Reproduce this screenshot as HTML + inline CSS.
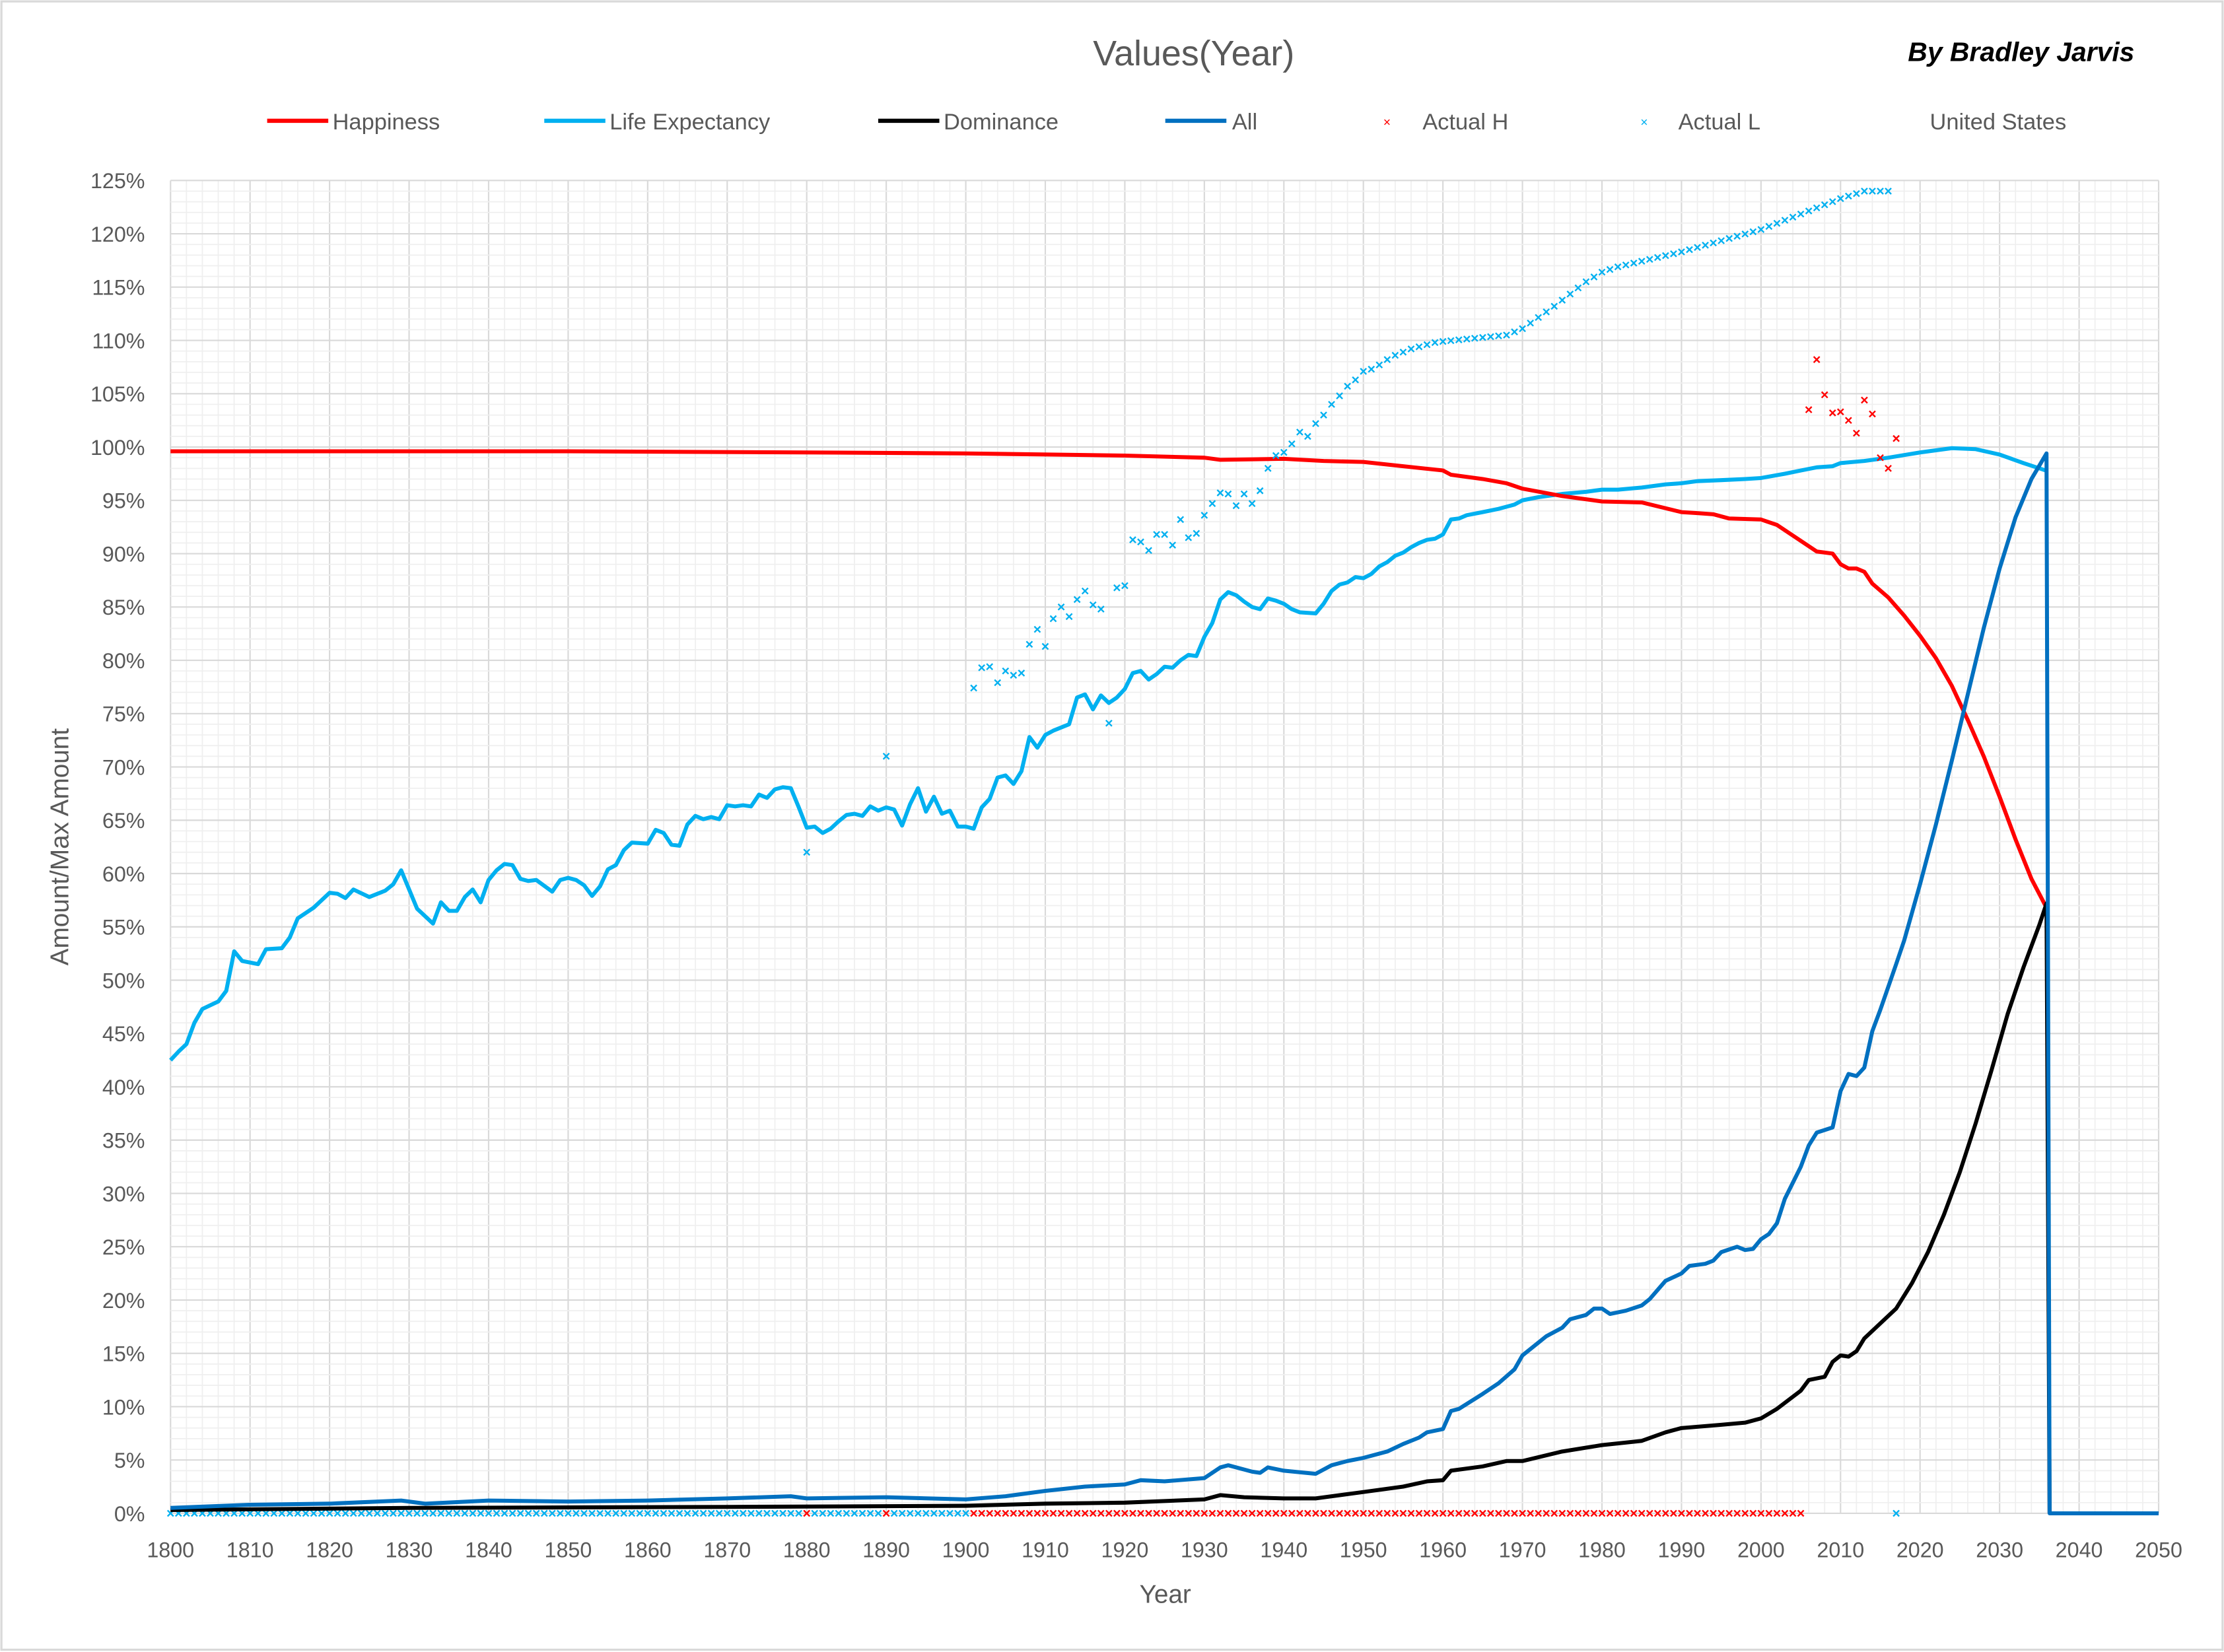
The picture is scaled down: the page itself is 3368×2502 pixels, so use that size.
<!DOCTYPE html>
<html><head><meta charset="utf-8"><style>
html,body{margin:0;padding:0;background:#fff;}
svg{display:block;}
text{font-family:"Liberation Sans",sans-serif;}
</style></head><body>
<svg id="s" width="3368" height="2502" viewBox="0 0 1565 1162.6" preserveAspectRatio="none" xmlns="http://www.w3.org/2000/svg">
<rect x="1" y="1" width="1563" height="1160" fill="#fff" stroke="#d9d9d9" stroke-width="1.5"/>
<g id="grid"></g>
<text x="840" y="46" font-size="25" fill="#595959" text-anchor="middle">Values(Year)</text>
<text x="1502" y="43" font-size="19" font-style="italic" font-weight="bold" fill="#000" text-anchor="end">By Bradley Jarvis</text>
<g font-size="16" fill="#595959">
<line x1="188" y1="85" x2="231" y2="85" stroke="#ff0000" stroke-width="3"/><text x="234" y="91">Happiness</text>
<line x1="383" y1="85" x2="426" y2="85" stroke="#00b0f0" stroke-width="3"/><text x="429" y="91">Life Expectancy</text>
<line x1="618" y1="85" x2="661" y2="85" stroke="#000" stroke-width="3"/><text x="664" y="91">Dominance</text>
<line x1="820" y1="85" x2="863" y2="85" stroke="#0070c0" stroke-width="3"/><text x="867" y="91">All</text>
<text x="976" y="89" font-size="9" fill="#ff0000" text-anchor="middle">×</text><text x="1001" y="91">Actual H</text>
<text x="1157" y="89" font-size="9" fill="#00b0f0" text-anchor="middle">×</text><text x="1181" y="91">Actual L</text>
<text x="1358" y="91">United States</text>
</g>
<text transform="translate(48,596) rotate(-90)" font-size="18" fill="#595959" text-anchor="middle">Amount/Max Amount</text>
<text x="820" y="1128" font-size="18" fill="#595959" text-anchor="middle">Year</text>
<g id="ticks" font-size="15" fill="#595959"></g>
<g id="series"></g>
</svg>
<script>
var L=120,R=1519,T=127,B=1065;
function X(y){return L+(y-1800)*(R-L)/250;}
function Y(v){return B-v*(B-T)/125;}
var g=document.getElementById('grid'),h='';
for(var yr=1800;yr<=2050;yr+=2){var maj=(yr%10==0);h+='<line x1="'+X(yr)+'" y1="'+T+'" x2="'+X(yr)+'" y2="'+B+'" stroke="'+(maj?'#d9d9d9':'#efefef')+'" stroke-width="'+(maj?1:0.8)+'"/>';}
for(var v=0;v<=125;v+=1){var maj=(v%5==0);h+='<line x1="'+L+'" y1="'+Y(v)+'" x2="'+R+'" y2="'+Y(v)+'" stroke="'+(maj?'#d9d9d9':'#efefef')+'" stroke-width="'+(maj?1:0.8)+'"/>';}
g.innerHTML=h;
var t='';
for(var v=0;v<=125;v+=5){t+='<text x="102" y="'+(Y(v)+5.5)+'" text-anchor="end">'+v+'%</text>';}
for(var yr=1800;yr<=2050;yr+=10){t+='<text x="'+X(yr)+'" y="'+(B+31)+'" text-anchor="middle">'+yr+'</text>';}
document.getElementById('ticks').innerHTML=t;
function path(d,c,w){var p='';for(var i=0;i<d.length;i+=2){p+=(i?'L':'M')+X(d[i]).toFixed(1)+','+Y(d[i+1]).toFixed(1);}return '<path d="'+p+'" fill="none" stroke="'+c+'" stroke-width="'+w+'" stroke-linejoin="round"/>';}
function mk(x,v,c){var cx=X(x),cy=Y(v),r=2.1;return '<path d="M'+(cx-r)+','+(cy-r)+'L'+(cx+r)+','+(cy+r)+'M'+(cx-r)+','+(cy+r)+'L'+(cx+r)+','+(cy-r)+'" stroke="'+c+'" stroke-width="1.1"/>';}
var life=[1800,42.5,1801,43.3,1802,44,1803,46,1804,47.3,1806,48,1807,49,1808,52.7,1809,51.8,1811,51.5,1812,52.9,1814,53,1815,54,1816,55.8,1818,56.8,1820,58.2,1821,58.1,1822,57.7,1823,58.5,1825,57.8,1827,58.4,1828,59,1829,60.3,1830,58.5,1831,56.7,1833,55.3,1834,57.3,1835,56.5,1836,56.5,1837,57.8,1838,58.5,1839,57.3,1840,59.4,1841,60.3,1842,60.9,1843,60.8,1844,59.5,1845,59.3,1846,59.4,1848,58.3,1849,59.4,1850,59.6,1851,59.4,1852,58.9,1853,57.9,1854,58.8,1855,60.4,1856,60.8,1857,62.2,1858,62.9,1860,62.8,1861,64.1,1862,63.8,1863,62.7,1864,62.6,1865,64.6,1866,65.4,1867,65.1,1868,65.3,1869,65.1,1870,66.4,1871,66.3,1872,66.4,1873,66.3,1874,67.4,1875,67.1,1876,67.9,1877,68.1,1878,68,1879,66.2,1880,64.3,1881,64.4,1882,63.8,1883,64.2,1884,64.9,1885,65.5,1886,65.6,1887,65.4,1888,66.3,1889,65.9,1890,66.2,1891,66,1892,64.5,1893,66.5,1894,68,1895,65.8,1896,67.2,1897,65.6,1898,65.9,1899,64.4,1900,64.4,1901,64.2,1902,66.2,1903,67,1904,69,1905,69.2,1906,68.4,1907,69.6,1908,72.8,1909,71.8,1910,73,1911,73.4,1913,74,1914,76.5,1915,76.8,1916,75.4,1917,76.7,1918,76,1919,76.5,1920,77.3,1921,78.8,1922,79,1923,78.2,1924,78.7,1925,79.4,1926,79.3,1927,80,1928,80.5,1929,80.4,1930,82.2,1931,83.5,1932,85.7,1933,86.4,1934,86.1,1935,85.5,1936,85,1937,84.8,1938,85.8,1939,85.6,1940,85.3,1941,84.8,1942,84.5,1944,84.4,1945,85.3,1946,86.5,1947,87.1,1948,87.3,1949,87.8,1950,87.7,1951,88.1,1952,88.8,1953,89.2,1954,89.8,1955,90.1,1956,90.6,1957,91,1958,91.3,1959,91.4,1960,91.8,1961,93.2,1962,93.3,1963,93.6,1965,93.9,1967,94.2,1969,94.6,1970,95,1972,95.3,1975,95.6,1978,95.8,1980,96,1982,96,1985,96.2,1988,96.5,1990,96.6,1992,96.8,1995,96.9,1998,97,2000,97.1,2003,97.5,2005,97.8,2007,98.1,2009,98.2,2010,98.5,2013,98.7,2016,99,2020,99.5,2024,99.9,2027,99.8,2030,99.3,2033,98.5,2035,98,2035.8,97.8];
var hap=[1800,99.6,1850,99.6,1880,99.5,1900,99.4,1920,99.2,1930,99.0,1932,98.8,1940,98.9,1945,98.7,1950,98.6,1955,98.2,1960,97.8,1961,97.4,1965,97,1968,96.6,1970,96.1,1975,95.4,1980,94.9,1985,94.8,1990,93.9,1992,93.8,1994,93.7,1996,93.3,2000,93.2,2002,92.7,2005,91.2,2007,90.2,2009,90.0,2010,89,2011,88.6,2012,88.6,2013,88.3,2014,87.2,2016,85.9,2018,84.2,2020,82.3,2022,80.2,2024,77.6,2026,74.4,2028,71,2030,67.2,2032,63.2,2034,59.5,2035.9,56.8];
var all=[1800,0.5,1810,0.8,1820,0.9,1829,1.2,1832,0.9,1840,1.2,1850,1.1,1860,1.2,1870,1.4,1878,1.6,1880,1.4,1890,1.5,1900,1.3,1905,1.6,1910,2.1,1915,2.5,1920,2.7,1922,3.1,1925,3,1930,3.3,1932,4.3,1933,4.5,1936,3.9,1937,3.8,1938,4.3,1940,4.0,1944,3.7,1946,4.5,1948,4.9,1950,5.2,1953,5.8,1955,6.5,1957,7.1,1958,7.6,1960,7.9,1961,9.6,1962,9.8,1965,11.2,1967,12.2,1969,13.5,1970,14.8,1972,16,1973,16.6,1975,17.4,1976,18.2,1978,18.6,1979,19.2,1980,19.2,1981,18.7,1983,19.0,1985,19.5,1986,20.1,1988,21.8,1990,22.5,1991,23.2,1993,23.4,1994,23.7,1995,24.5,1997,25.0,1998,24.7,1999,24.8,2000,25.7,2001,26.2,2002,27.2,2003,29.5,2005,32.5,2006,34.5,2007,35.7,2009,36.2,2010,39.6,2011,41.2,2012,41.0,2013,41.8,2014,45.2,2015,47.2,2017,51.5,2018,53.7,2020,59,2022,64.6,2024,70.6,2026,76.8,2028,83,2030,88.6,2032,93.4,2034,97,2035.9,99.4,2036.3,0,2050,0];
var dom=[1800,0.3,1830,0.5,1870,0.6,1900,0.7,1910,0.9,1920,1.0,1930,1.3,1932,1.7,1935,1.5,1940,1.4,1944,1.4,1950,2.0,1955,2.5,1958,3.0,1960,3.1,1961,4.0,1965,4.4,1968,4.9,1970,4.9,1975,5.8,1980,6.4,1985,6.8,1988,7.6,1990,8.0,1995,8.3,1998,8.5,2000,8.9,2002,9.8,2005,11.5,2006,12.5,2008,12.8,2009,14.2,2010,14.8,2011,14.7,2012,15.2,2013,16.4,2015,17.8,2017,19.2,2019,21.6,2021,24.5,2023,28,2025,32,2027,36.6,2029,41.6,2031,46.8,2033,51.2,2035,55.2,2035.9,57.2,2036.3,0];
var s='';
for(var y=1800;y<=1900;y++){s+=mk(y,0,(y==1880||y==1890)?'#ff0000':'#00b0f0');}
for(var y=1901;y<=2005;y++){s+=mk(y,0,'#ff0000');}
s+=mk(2017,0,'#00b0f0');
s+=path(life,'#00b0f0',2.8);
s+=path(hap,'#ff0000',2.8);
s+=path(dom,'#000',2.8);
s+=path(all,'#0070c0',2.8);
var al={1880:62,1890:71,1901:77.4,1902:79.3,1903:79.4,1904:77.9,1905:79,1906:78.6,1907:78.8,1908:81.5,1909:82.9,1910:81.3,1911:83.9,1912:85,1913:84.1,1914:85.7,1915:86.5,1916:85.2,1917:84.8,1918:74.1,1919:86.8,1920:87,1921:91.3,1922:91.1,1923:90.3,1924:91.8,1925:91.8,1926:90.8,1927:93.2,1928:91.5,1929:91.9,1930:93.6,1931:94.7,1932:95.7,1933:95.6,1934:94.5,1935:95.6,1936:94.7,1937:95.9,1938:98,1939:99.2,1940:99.5,1941:100.3,1942:101.4,1943:101,1944:102.2,1945:103,1946:104,1947:104.8,1948:105.7,1949:106.3,1950:107.1,1951:107.3,1952:107.7,1953:108.2,1954:108.6,1955:108.9,1956:109.2,1957:109.4,1958:109.6,1959:109.8,1960:109.9};
for(var k in al){s+=mk(+k,al[k],'#00b0f0');}
var lk=[1960,109.9,1968,110.5,1970,111.1,1974,113.2,1978,115.5,1980,116.4,1982,116.9,1990,118.3,2000,120.4,2010,123.3,2013,124,2016,124];
for(var y=1961;y<=2016;y++){var v=0;for(var i=0;i<lk.length-2;i+=2){if(y>=lk[i]&&y<=lk[i+2]){v=lk[i+1]+(lk[i+3]-lk[i+1])*(y-lk[i])/(lk[i+2]-lk[i]);break;}}s+=mk(y,v,'#00b0f0');}
var ah={2006:103.5,2007:108.2,2008:104.9,2009:103.2,2010:103.3,2011:102.5,2012:101.3,2013:104.4,2014:103.1,2015:99,2016:98,2017:100.8};
for(var k in ah){s+=mk(+k,ah[k],'#ff0000');}
document.getElementById('series').innerHTML=s;
</script>
</body></html>
